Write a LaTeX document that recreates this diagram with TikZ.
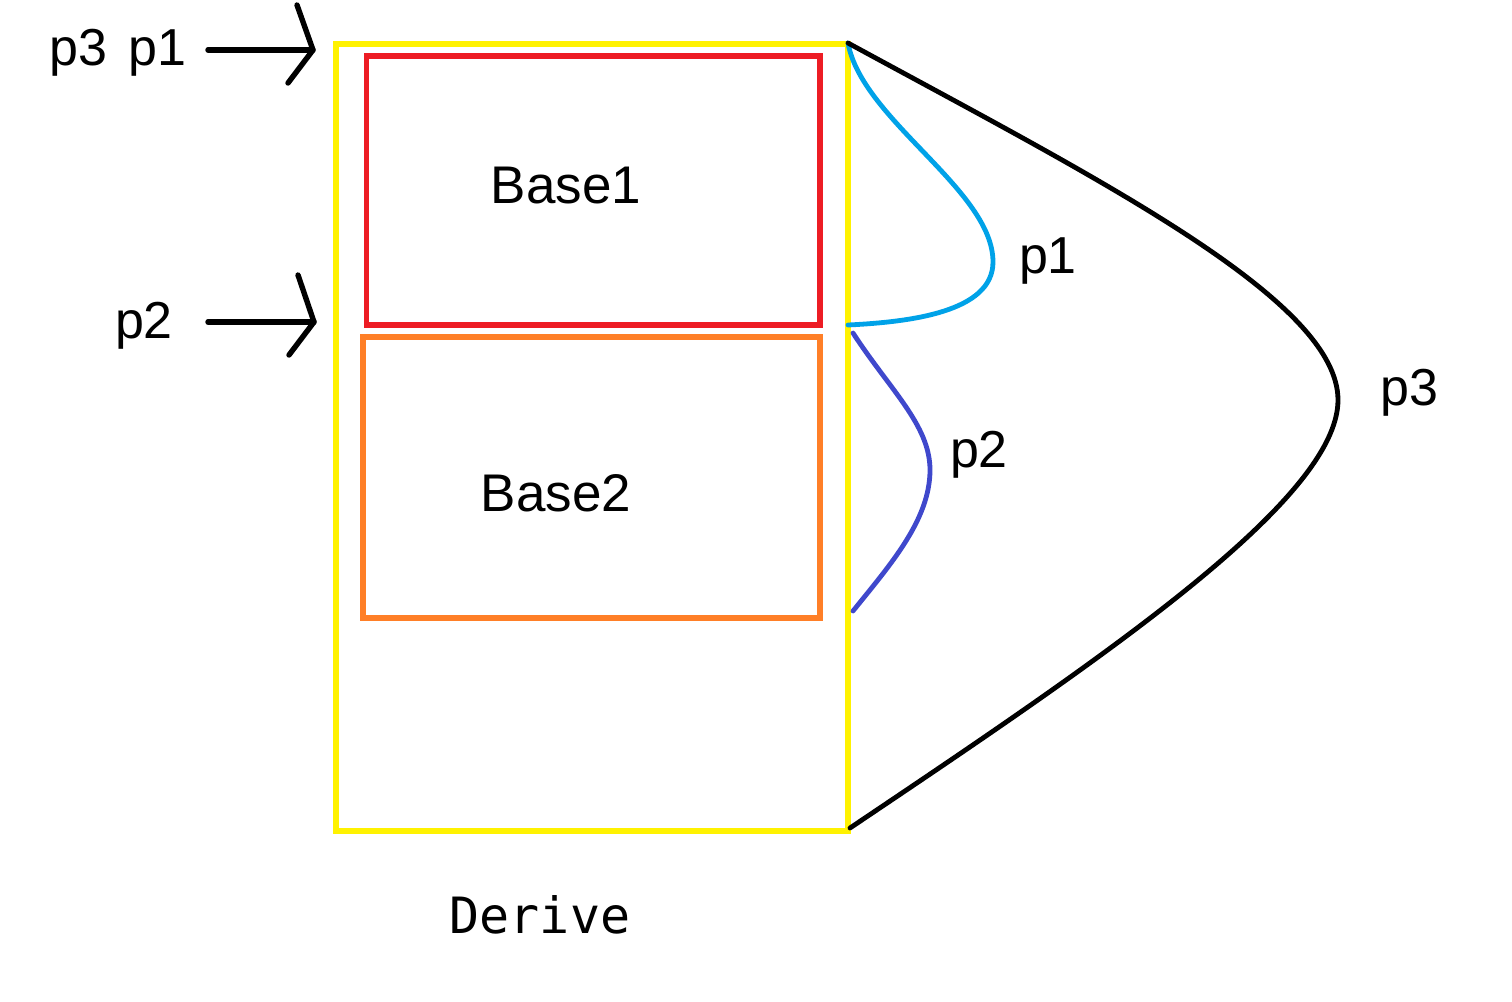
\documentclass[tikz,border=0pt]{standalone}
\usepackage{fontspec}
\setmainfont{Liberation Sans}
\newfontfamily\monofont{DejaVu Sans Mono}
\definecolor{cyel}{HTML}{FFF200}
\definecolor{cred}{HTML}{ED1C24}
\definecolor{corg}{HTML}{FF7F27}
\definecolor{ccya}{HTML}{00A2E8}
\definecolor{cind}{HTML}{3F48CC}
\begin{document}
\begin{tikzpicture}[x=0.5pt,y=-0.5pt,
  lbl/.style={inner sep=0pt,anchor=base,font=\fontsize{26pt}{30pt}\selectfont},
  boxlbl/.style={inner sep=0pt,anchor=base,font=\fontsize{26.5pt}{30pt}\selectfont},
  curve/.style={line width=2.4pt,line cap=round},
  arr/.style={line width=2.7pt,line cap=round,line join=round,black}]
\useasboundingbox (0,0) rectangle (1512,1002);
\fill[white] (0,0) rectangle (1512,1002);
% boxes
\draw[cyel,line width=2.8pt] (336,44) rectangle (848,831);
\draw[cred,line width=2.7pt] (366.5,56) rectangle (820,325);
\draw[corg,line width=2.6pt] (363,337) rectangle (820,618);
\coordinate (ytop) at (848,43);
\coordinate (ybot) at (850,828);
\coordinate (rmid) at (848,325);
\coordinate (o1) at (853,333);
\coordinate (o2) at (853,611);
% labels
\node[boxlbl] (b1) at (566,203) {Base1};
\node[boxlbl] (b2) at (556,511) {Base2};
\node[inner sep=0pt,anchor=base,font=\monofont\fontsize{25pt}{30pt}\selectfont] (der) at (540,933) {Derive};
\node[lbl] (l31) at (118,65) {p3\hspace{10.5pt}p1};
\node[lbl] (l2) at (144,338) {p2};
\node[lbl] (r1) at (1048,273) {p1};
\node[lbl] (r2) at (979,467) {p2};
\node[lbl] (r3) at (1409,405) {p3};
% arrows
\coordinate (a1s) at (208,50);
\coordinate (a1t) at (313,50);
\coordinate (a1u) at (297,5);
\coordinate (a1d) at (288,83);
\coordinate (a2s) at (208,322);
\coordinate (a2t) at (314,322);
\coordinate (a2u) at (298,275);
\coordinate (a2d) at (289,355);
\draw[arr] (a1s) -- (a1t);
\draw[arr] (a1u) -- (a1t) -- (a1d);
\draw[arr] (a2s) -- (a2t);
\draw[arr] (a2u) -- (a2t) -- (a2d);
% curves
\draw[curve,ccya] (ytop) .. controls (862,120) and (993,190) .. (993,262)
  .. controls (993,312) and (910,322) .. (rmid);
\draw[curve,cind] (o1) .. controls (890,390) and (930,425) .. (930,470)
  .. controls (930,520) and (890,565) .. (o2);
\draw[curve,black] (ytop) .. controls (1100,180) and (1338,300) .. (1338,400)
  .. controls (1338,500) and (1100,660) .. (ybot);
\end{tikzpicture}
\end{document}
